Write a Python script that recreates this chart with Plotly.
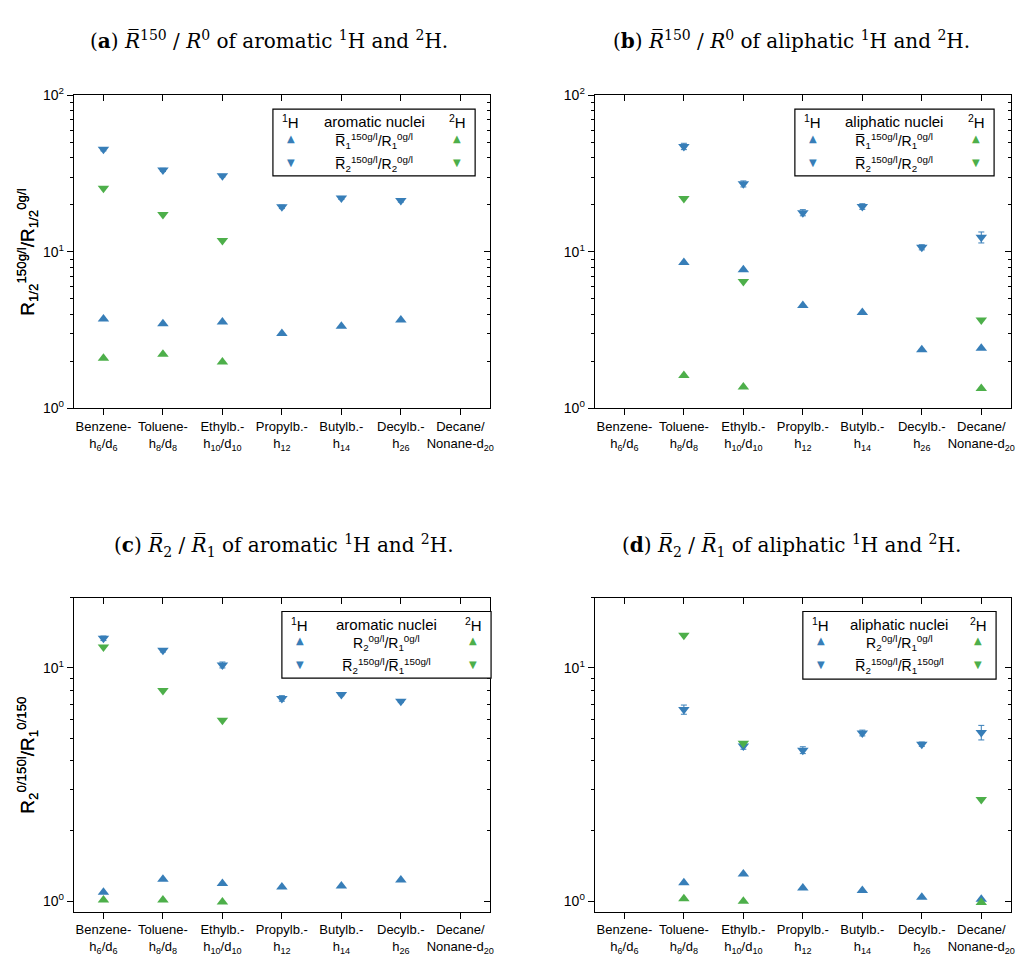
import plotly.graph_objects as go
import math

W, H = 1022, 958

categories = ["Benzene-<br>h<sub>6</sub>/d<sub>6</sub>", "Toluene-<br>h<sub>8</sub>/d<sub>8</sub>",
              "Ethylb.-<br>h<sub>10</sub>/d<sub>10</sub>", "Propylb.-<br>h<sub>12</sub>",
              "Butylb.-<br>h<sub>14</sub>", "Decylb.-<br>h<sub>26</sub>",
              "Decane/<br>Nonane-d<sub>20</sub>"]

# (a) aromatic, R150/R0
a_h1_r1 = [3.72, 3.47, 3.56, 3.01, 3.35, 3.67, None]
a_h2_r1 = [2.09, 2.22, 1.98, None, None, None, None]
a_h1_r2 = [45.2, 33.4, 30.7, 19.4, 22.1, 21.3, None]
a_h2_r2 = [25.5, 17.3, 11.8, None, None, None, None]
a_h1_r2_err = [1.0, 0.8, 0.6, 0.5, 0.5, 0.5, 0]

# (b) aliphatic, R150/R0
b_h1_r1 = [None, 8.56, 7.69, 4.55, 4.10, 2.37, 2.42]
b_h2_r1 = [None, 1.62, 1.37, None, None, None, 1.34]
b_h1_r2 = [None, 47.2, 27.2, 17.8, 19.5, 10.7, 12.4]
b_h2_r2 = [None, 21.9, 6.47, None, None, None, 3.67]
b_h1_r2_err = [0, 2.2, 1.2, 0.8, 0.8, 0.4, 1.0]

# (c) aromatic, R2/R1
c_h1_r1 = [1.09, 1.24, 1.19, 1.15, 1.16, 1.23, None]
c_h2_r1 = [1.01, 1.01, 0.99, None, None, None, None]
c_h1_r2 = [13.4, 11.9, 10.3, 7.4, 7.7, 7.2, None]
c_h2_r2 = [12.3, 8.0, 5.97, None, None, None, None]
c_h1_r2_err = [0.3, 0.2, 0.3, 0.2, 0.1, 0.1, 0]

# (d) aliphatic, R2/R1
d_h1_r1 = [None, 1.198, 1.307, 1.138, 1.109, 1.039, 1.019]
d_h2_r1 = [None, 1.023, 0.997, None, None, None, 0.987]
d_h1_r2 = [None, 6.63, 4.63, 4.44, 5.26, 4.71, 5.29]
d_h2_r2 = [None, 13.8, 4.75, None, None, None, 2.73]
d_h1_r2_err = [0, 0.3, 0.15, 0.15, 0.15, 0.1, 0.38]

BLUE = "#377eb8"
GREEN = "#4daf4a"

panels = [
    dict(x0=74, x1=492, y0=87, y1=406, yr=(1, 100),
         h1r1=a_h1_r1, h2r1=a_h2_r1, h1r2=a_h1_r2, h2r2=a_h2_r2, err=a_h1_r2_err,
         title="(<b>a</b>) <i>R̅</i><sup>150</sup> / <i>R</i><sup>0</sup> of aromatic <sup>1</sup>H and <sup>2</sup>H.",
         tx=270, ty=31, nuc="aromatic nuclei",
         row1="R̅<sub>1</sub><sup>150g/l</sup>/R<sub>1</sub><sup>0g/l</sup>",
         row2="R̅<sub>2</sub><sup>150g/l</sup>/R<sub>2</sub><sup>0g/l</sup>",
         ylab="R<sub>1/2</sub><sup>150g/l</sup>/R<sub>1/2</sub><sup>0g/l</sup>",
         box=(274, 477, 101, 169)),
    dict(x0=597, x1=1015, y0=87, y1=406, yr=(1, 100),
         h1r1=b_h1_r1, h2r1=b_h2_r1, h1r2=b_h1_r2, h2r2=b_h2_r2, err=b_h1_r2_err,
         title="(<b>b</b>) <i>R̅</i><sup>150</sup> / <i>R</i><sup>0</sup> of aliphatic <sup>1</sup>H and <sup>2</sup>H.",
         tx=795, ty=31, nuc="aliphatic nuclei",
         row1="R̅<sub>1</sub><sup>150g/l</sup>/R<sub>1</sub><sup>0g/l</sup>",
         row2="R̅<sub>2</sub><sup>150g/l</sup>/R<sub>2</sub><sup>0g/l</sup>",
         ylab="R<sub>1/2</sub><sup>150g/l</sup>/R<sub>1/2</sub><sup>0g/l</sup>",
         box=(798, 998, 101, 169)),
    dict(x0=74, x1=492, y0=599, y1=919, yr=(0.9, 20),
         h1r1=c_h1_r1, h2r1=c_h2_r1, h1r2=c_h1_r2, h2r2=c_h2_r2, err=c_h1_r2_err,
         title="(<b>c</b>) <i>R̅</i><sub>2</sub> / <i>R̅</i><sub>1</sub> of aromatic <sup>1</sup>H and <sup>2</sup>H.",
         tx=285, ty=546, nuc="aromatic nuclei",
         row1="R<sub>2</sub><sup>0g/l</sup>/R<sub>1</sub><sup>0g/l</sup>",
         row2="R̅<sub>2</sub><sup>150g/l</sup>/R̅<sub>1</sub><sup>150g/l</sup>",
         ylab="R<sub>2</sub><sup>0/150l</sup>/R<sub>1</sub><sup>0/150</sup>",
         box=(283, 493, 613, 681)),
    dict(x0=597, x1=1015, y0=599, y1=919, yr=(0.9, 20),
         h1r1=d_h1_r1, h2r1=d_h2_r1, h1r2=d_h1_r2, h2r2=d_h2_r2, err=d_h1_r2_err,
         title="(<b>d</b>) <i>R̅</i><sub>2</sub> / <i>R̅</i><sub>1</sub> of aliphatic <sup>1</sup>H and <sup>2</sup>H.",
         tx=795, ty=546, nuc="aliphatic nuclei",
         row1="R<sub>2</sub><sup>0g/l</sup>/R<sub>1</sub><sup>0g/l</sup>",
         row2="R̅<sub>2</sub><sup>150g/l</sup>/R̅<sub>1</sub><sup>150g/l</sup>",
         ylab="R<sub>2</sub><sup>0/150l</sup>/R<sub>1</sub><sup>0/150</sup>",
         box=(806, 1000, 613, 682)),
]

FONT = "Liberation Sans, Arial, sans-serif"
SERIF = "DejaVu Serif, Liberation Serif, serif"

fig = go.Figure()
layout = dict(width=W, height=H, margin=dict(l=0, r=0, t=0, b=0),
              paper_bgcolor="white", plot_bgcolor="white", showlegend=False,
              font=dict(family=FONT, size=13, color="black"))
annotations = []
shapes = []


def px(x):
    return x / W


def py(y):
    return 1 - y / H


for i, p in enumerate(panels):
    n = i * 2 + 1
    m = i * 2 + 2
    xa, ya = f"x{n}", f"y{n}"
    xb, yb = f"x{m}", f"y{m}"
    xdom = [px(p["x0"]), px(p["x1"])]
    ydom = [py(p["y1"]), py(p["y0"])]
    lo, hi = p["yr"]
    yrange = [math.log10(lo), math.log10(hi)]
    if hi > 50:
        tv, tt = [1, 10, 100], ["10<sup>0</sup>", "10<sup>1</sup>", "10<sup>2</sup>"]
        mv = [k * d for d in (1, 10) for k in range(2, 10)]
    else:
        tv, tt = [1, 10], ["10<sup>0</sup>", "10<sup>1</sup>"]
        mv = [k * d for d in (1, 10) for k in range(2, 10) if k * d <= hi]
    common_x = dict(type="category", categoryorder="array", categoryarray=categories,
                    range=[-0.5, 6.5], domain=xdom, showgrid=False, zeroline=False,
                    showline=True, linecolor="black", linewidth=1)
    common_y = dict(type="log", range=yrange, domain=ydom, showgrid=False, zeroline=False,
                    showline=True, linecolor="black", linewidth=1,
                    tickmode="array", tickvals=tv)
    layout[f"xaxis{n}"] = dict(common_x, anchor=ya, side="bottom", ticks="outside", ticklen=6,
                               tickcolor="black", tickfont=dict(size=13, family=FONT))
    layout[f"yaxis{n}"] = dict(common_y, anchor=xa, side="left", ticks="outside", ticklen=6,
                               tickcolor="black", ticktext=tt,
                               tickfont=dict(size=14, family=FONT),
                               minor=dict(tickmode="array", tickvals=mv, ticks="outside",
                                          ticklen=3, tickcolor="black"))
    layout[f"xaxis{m}"] = dict(common_x, anchor=yb, overlaying=xa, side="top", ticks="inside",
                               ticklen=6, tickcolor="black", showticklabels=False)
    layout[f"yaxis{m}"] = dict(common_y, anchor=xb, overlaying=ya, side="right", ticks="inside",
                               ticklen=6, tickcolor="black", showticklabels=False,
                               minor=dict(tickmode="array", tickvals=mv, ticks="inside",
                                          ticklen=3, tickcolor="black"))
    fig.add_trace(go.Scatter(x=[categories[0]], y=[None], xaxis=xb, yaxis=yb, mode="markers",
                             hoverinfo="skip"))

    def add(vals, symbol, color, err=None):
        kw = {}
        if err is not None:
            kw["error_y"] = dict(type="data", array=err, visible=True, color=color,
                                 thickness=1, width=3)
        fig.add_trace(go.Scatter(x=categories, y=vals, mode="markers", xaxis=xa, yaxis=ya,
                                 marker=dict(symbol=symbol, color=color, size=10,
                                             line=dict(width=0)),
                                 cliponaxis=False, **kw))

    add(p["h1r2"], "triangle-down", BLUE, p["err"])
    add(p["h2r2"], "triangle-down", GREEN)
    add(p["h1r1"], "triangle-up", BLUE)
    add(p["h2r1"], "triangle-up", GREEN)

    # title
    annotations.append(dict(text=p["title"], x=px(p["tx"]), y=py(p["ty"]), xref="paper",
                            yref="paper", showarrow=False, xanchor="center", yanchor="middle",
                            font=dict(family=SERIF, size=20, color="black")))
    # y-axis label
    annotations.append(dict(text=p["ylab"], x=px(28), y=py((p["y0"] + p["y1"]) / 2),
                            xref="paper", yref="paper", showarrow=False, textangle=-90,
                            xanchor="center", yanchor="middle",
                            font=dict(family=FONT, size=19, color="black")))
    # legend box
    bx0, bx1, by0, by1 = p["box"]
    shapes.append(dict(type="rect", xref="paper", yref="paper", x0=px(bx0), x1=px(bx1),
                       y0=py(by1), y1=py(by0), line=dict(color="black", width=1.2),
                       fillcolor="white", layer="above"))
    hy = by0 + 13
    r1y = by0 + 32
    r2y = by0 + 56
    lx = bx0 + 18
    rx = bx1 - 18
    cx = (bx0 + bx1) / 2
    for txt, x, y in [("<sup>1</sup>H", lx, hy), (p["nuc"], cx, hy), ("<sup>2</sup>H", rx, hy)]:
        annotations.append(dict(text=txt, x=px(x), y=py(y), xref="paper", yref="paper",
                                showarrow=False, xanchor="center", yanchor="middle",
                                font=dict(family=FONT, size=15, color="black")))
    for txt, y in [(p["row1"], r1y), (p["row2"], r2y)]:
        annotations.append(dict(text=txt, x=px(cx), y=py(y), xref="paper", yref="paper",
                                showarrow=False, xanchor="center", yanchor="middle",
                                font=dict(family=FONT, size=14, color="black")))
    for sym, y in [("▲", r1y - 2), ("▼", r2y - 2)]:
        for col, x in [(BLUE, lx), (GREEN, rx)]:
            annotations.append(dict(text=sym, x=px(x), y=py(y), xref="paper", yref="paper",
                                    showarrow=False, xanchor="center", yanchor="middle",
                                    font=dict(family="DejaVu Sans", size=10, color=col)))

layout["annotations"] = annotations
layout["shapes"] = shapes
fig.update_layout(**layout)
fig.write_html("out.html", config={"displayModeBar": False},
               post_script="document.body.style.margin='0';document.body.style.overflow='hidden';")
